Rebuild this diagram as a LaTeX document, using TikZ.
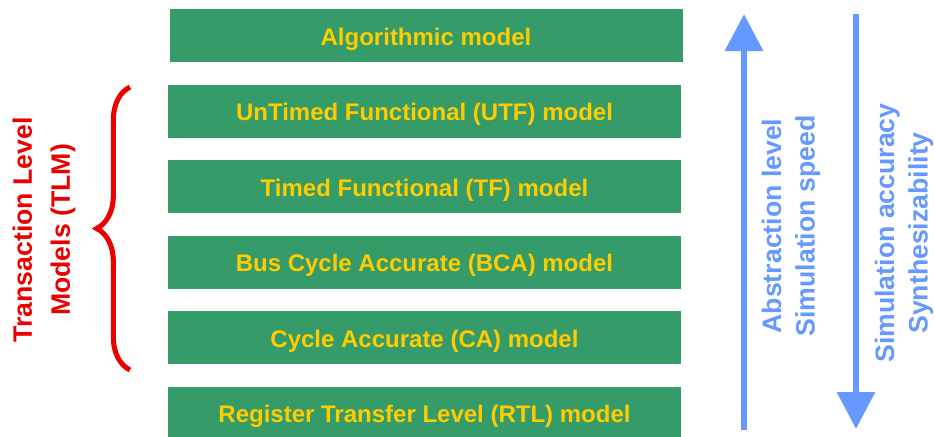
\documentclass[tikz,border=0pt]{standalone}
\usepackage{fontspec}
\setmainfont{Liberation Sans}
\usetikzlibrary{arrows.meta}
\usetikzlibrary{decorations.pathreplacing}
\usetikzlibrary{positioning}

\definecolor{modelgreen}{RGB}{53,155,104}
\definecolor{modelyellow}{RGB}{255,204,0}
\definecolor{tlmred}{RGB}{235,0,0}
\definecolor{axisblue}{RGB}{102,153,255}

\tikzset{
    modelbox/.style={fill=modelgreen, draw=none, minimum width=384.75pt, minimum height=39.75pt,
        inner sep=0pt, text height=17pt, text depth=2.75pt,
        text=modelyellow, font=\bfseries\fontsize{18}{21}\selectfont},
    axislabel/.style={rotate=90, align=center, text=axisblue, font=\bfseries\fontsize{20}{25}\selectfont},
    axisarrow/.style={draw=axisblue, line width=4.8pt, -{Triangle[length=27.75pt,width=27.75pt]}}
}

\begin{document}
\begin{tikzpicture}[x=0.75pt, y=-0.75pt]
        \useasboundingbox (0,0) rectangle (935,436);

        % Abstraction levels
        \node[modelbox] (alg) at (426,35.5) {Algorithmic model};
        \node[modelbox] (utf) at (424.5,111) {UnTimed Functional (UTF) model};
        \node[modelbox] (tf)  at (424.5,186.5) {Timed Functional (TF) model};
        \node[modelbox] (bca) at (424.5,262) {Bus Cycle Accurate (BCA) model};
        \node[modelbox] (ca)  at (424.5,337.5) {Cycle Accurate (CA) model};
        \node[modelbox] (rtl) at (424.5,413) {Register Transfer Level (RTL) model};

        % TLM brace
        \coordinate (bracebot) at (130,370);
        \coordinate (bracetop) at (130,87);
        \draw[tlmred, line width=3.8pt, decorate, decoration={brace, amplitude=25pt}]
            (bracebot) -- (bracetop);
        \node[rotate=90, align=center, text=tlmred, font=\bfseries\fontsize{20}{28.5}\selectfont]
            (tlm) at (44,230) {Transaction Level\\Models (TLM)};

        % Abstraction / speed arrow
        \coordinate (upstart) at (744,430);
        \coordinate (upend) at (744,14);
        \draw[axisarrow] (upstart) -- (upend);
        \node[axislabel] (abslbl) at (791,226) {Abstraction level\\Simulation speed};

        % Accuracy / synthesis arrow
        \coordinate (downstart) at (856,14);
        \coordinate (downend) at (856,429);
        \draw[axisarrow] (downstart) -- (downend);
        \node[axislabel] (acclbl) at (904,233) {Simulation accuracy\\Synthesizability};

    \end{tikzpicture}
\end{document}
